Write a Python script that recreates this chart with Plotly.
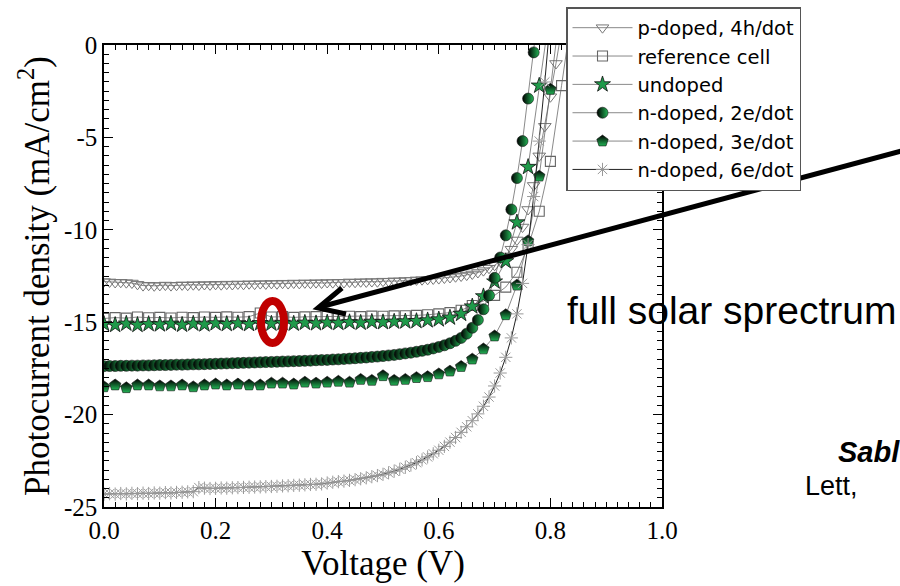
import plotly.graph_objects as go

# ---- J-V data (voltage in V, photocurrent density in mA/cm^2) ----
v_p4h = [0.00, 0.01, 0.02, 0.03, 0.04, 0.05, 0.06, 0.07, 0.08, 0.09,
         0.10, 0.11, 0.12, 0.13, 0.14, 0.15, 0.16, 0.17, 0.18, 0.19,
         0.20, 0.21, 0.22, 0.23, 0.24, 0.25, 0.26, 0.27, 0.28, 0.29,
         0.30, 0.31, 0.32, 0.33, 0.34, 0.35, 0.36, 0.37, 0.38, 0.39,
         0.40, 0.41, 0.42, 0.43, 0.44, 0.45, 0.46, 0.47, 0.48, 0.49,
         0.50, 0.51, 0.52, 0.53, 0.54, 0.55, 0.56, 0.57, 0.58, 0.59,
         0.60, 0.61, 0.62, 0.63, 0.64, 0.65, 0.66, 0.67, 0.68, 0.69,
         0.70, 0.71, 0.72, 0.73, 0.74, 0.75, 0.76, 0.77, 0.78, 0.79,
         0.80, 0.81, 0.82]
j_p4h = [-12.80, -12.82, -12.85, -12.84, -12.86, -12.88, -12.95, -13.02, -13.00, -13.03,
         -13.01, -12.99, -13.02, -13.00, -12.98, -13.00, -12.97, -12.99, -12.96, -12.98,
         -12.95, -12.97, -12.94, -12.96, -12.93, -12.95, -12.92, -12.94, -12.91, -12.93,
         -12.90, -12.92, -12.89, -12.91, -12.88, -12.90, -12.87, -12.89, -12.86, -12.88,
         -12.85, -12.86, -12.84, -12.85, -12.82, -12.84, -12.81, -12.82, -12.80, -12.81,
         -12.78, -12.79, -12.76, -12.77, -12.74, -12.74, -12.71, -12.70, -12.68, -12.66,
         -12.64, -12.61, -12.58, -12.54, -12.50, -12.45, -12.39, -12.31, -12.21, -12.08,
         -11.92, -11.70, -11.42, -11.05, -10.55, -9.85, -8.90, -7.60, -6.00, -4.40,
         -2.80, -1.00, 0.80]

v_ref = [0.00, 0.02, 0.04, 0.06, 0.08, 0.10, 0.12, 0.14, 0.16, 0.18,
         0.20, 0.22, 0.24, 0.26, 0.28, 0.30, 0.32, 0.34, 0.36, 0.38,
         0.40, 0.42, 0.44, 0.46, 0.48, 0.50, 0.52, 0.54, 0.56, 0.58,
         0.60, 0.62, 0.64, 0.66, 0.68, 0.70, 0.72, 0.74, 0.76, 0.78,
         0.80, 0.82, 0.84]
j_ref = [-14.80, -14.75, -14.78, -14.72, -14.76, -14.74, -14.77, -14.73, -14.75, -14.72,
         -14.74, -14.71, -14.73, -14.70, -14.50, -14.72, -14.70, -14.74, -14.71, -14.70,
         -14.69, -14.71, -14.68, -14.70, -14.67, -14.68, -14.66, -14.65, -14.63, -14.60,
         -14.55, -14.48, -14.35, -14.10, -13.85, -13.55, -13.10, -12.30, -10.90, -9.00,
         -6.30, -2.20, 2.00]

v_und = [0.00, 0.02, 0.04, 0.06, 0.08, 0.10, 0.12, 0.14, 0.16, 0.18,
         0.20, 0.22, 0.24, 0.26, 0.28, 0.30, 0.32, 0.34, 0.36, 0.38,
         0.40, 0.42, 0.44, 0.46, 0.48, 0.50, 0.52, 0.54, 0.56, 0.58,
         0.60, 0.62, 0.64, 0.66, 0.68, 0.70, 0.72, 0.74, 0.76, 0.78,
         0.80]
j_und = [-15.10, -15.15, -15.08, -15.15, -15.10, -15.12, -15.08, -15.14, -15.08, -15.12,
         -15.06, -15.10, -15.06, -15.10, -15.05, -15.08, -15.04, -15.08, -15.03, -15.06,
         -15.02, -15.04, -15.00, -15.03, -14.98, -15.00, -14.97, -14.96, -14.94, -14.90,
         -14.85, -14.75, -14.55, -14.15, -13.60, -12.80, -11.70, -9.60, -6.60, -2.20,
         2.00]

v_n2e = [0.00, 0.01, 0.02, 0.03, 0.04, 0.05, 0.06, 0.07, 0.08, 0.09,
         0.10, 0.11, 0.12, 0.13, 0.14, 0.15, 0.16, 0.17, 0.18, 0.19,
         0.20, 0.21, 0.22, 0.23, 0.24, 0.25, 0.26, 0.27, 0.28, 0.29,
         0.30, 0.31, 0.32, 0.33, 0.34, 0.35, 0.36, 0.37, 0.38, 0.39,
         0.40, 0.41, 0.42, 0.43, 0.44, 0.45, 0.46, 0.47, 0.48, 0.49,
         0.50, 0.51, 0.52, 0.53, 0.54, 0.55, 0.56, 0.57, 0.58, 0.59,
         0.60, 0.61, 0.62, 0.63, 0.64, 0.65, 0.66, 0.67, 0.68, 0.69,
         0.70, 0.71, 0.72, 0.73, 0.74, 0.75, 0.76, 0.77, 0.78]
j_n2e = [-17.38, -17.37, -17.37, -17.36, -17.36, -17.35, -17.35, -17.34, -17.34, -17.33,
         -17.32, -17.32, -17.31, -17.30, -17.30, -17.29, -17.28, -17.28, -17.27, -17.26,
         -17.25, -17.24, -17.23, -17.22, -17.21, -17.20, -17.19, -17.18, -17.17, -17.16,
         -17.15, -17.14, -17.13, -17.12, -17.11, -17.10, -17.09, -17.08, -17.06, -17.05,
         -17.04, -17.02, -17.01, -16.99, -16.97, -16.95, -16.93, -16.91, -16.88, -16.86,
         -16.83, -16.80, -16.77, -16.73, -16.69, -16.65, -16.60, -16.55, -16.49, -16.42,
         -16.34, -16.25, -16.14, -16.01, -15.85, -15.62, -15.30, -14.88, -14.30, -13.55,
         -12.60, -11.50, -10.30, -8.90, -7.20, -5.20, -2.90, -0.40, 2.20]

v_n3e = [0.00, 0.02, 0.04, 0.06, 0.08, 0.10, 0.12, 0.14, 0.16, 0.18,
         0.20, 0.22, 0.24, 0.26, 0.28, 0.30, 0.32, 0.34, 0.36, 0.38,
         0.40, 0.42, 0.44, 0.46, 0.48, 0.50, 0.52, 0.54, 0.56, 0.58,
         0.60, 0.62, 0.64, 0.66, 0.68, 0.70, 0.72, 0.74, 0.76, 0.78,
         0.80, 0.82]
j_n3e = [-18.50, -18.40, -18.55, -18.40, -18.40, -18.45, -18.45, -18.40, -18.50, -18.40,
         -18.35, -18.40, -18.35, -18.40, -18.40, -18.30, -18.30, -18.35, -18.25, -18.30,
         -18.25, -18.20, -18.25, -18.10, -18.15, -17.90, -18.15, -18.10, -18.00, -17.95,
         -17.80, -17.65, -17.40, -17.00, -16.45, -15.75, -14.60, -13.00, -10.60, -7.10,
         -2.40, 2.60]

v_n6e = [0.00, 0.01, 0.02, 0.03, 0.04, 0.05, 0.06, 0.07, 0.08, 0.09,
         0.10, 0.11, 0.12, 0.13, 0.14, 0.15, 0.16, 0.17, 0.18, 0.19,
         0.20, 0.21, 0.22, 0.23, 0.24, 0.25, 0.26, 0.27, 0.28, 0.29,
         0.30, 0.31, 0.32, 0.33, 0.34, 0.35, 0.36, 0.37, 0.38, 0.39,
         0.40, 0.41, 0.42, 0.43, 0.44, 0.45, 0.46, 0.47, 0.48, 0.49,
         0.50, 0.51, 0.52, 0.53, 0.54, 0.55, 0.56, 0.57, 0.58, 0.59,
         0.60, 0.61, 0.62, 0.63, 0.64, 0.65, 0.66, 0.67, 0.68, 0.69,
         0.70, 0.71, 0.72, 0.73, 0.74, 0.75, 0.76, 0.77, 0.78, 0.79,
         0.80]
j_n6e = [-24.30, -24.28, -24.30, -24.27, -24.29, -24.26, -24.28, -24.25, -24.27, -24.24,
         -24.25, -24.22, -24.24, -24.21, -24.20, -24.18, -24.17, -23.95, -23.98, -24.00,
         -23.99, -23.97, -23.98, -23.96, -23.95, -23.94, -23.93, -23.92, -23.91, -23.90,
         -23.89, -23.88, -23.86, -23.85, -23.83, -23.82, -23.80, -23.78, -23.77, -23.75,
         -23.70, -23.66, -23.63, -23.60, -23.56, -23.52, -23.47, -23.42, -23.36, -23.30,
         -23.23, -23.15, -23.06, -22.96, -22.85, -22.73, -22.60, -22.45, -22.29, -22.12,
         -21.93, -21.72, -21.49, -21.24, -20.96, -20.66, -20.33, -19.96, -19.55, -19.05,
         -18.45, -17.75, -16.90, -15.85, -14.55, -12.90, -10.80, -8.20, -5.20, -2.00,
         1.50]

series_names = ["p-doped, 4h/dot", "reference cell", "undoped",
                "n-doped, 2e/dot", "n-doped, 3e/dot", "n-doped, 6e/dot"]

x_ticks = [0.0, 0.2, 0.4, 0.6, 0.8, 1.0]
y_ticks = [0, -5, -10, -15, -20, -25]
y_ticklabels = ["0", "-5", "-10", "-15", "-20", "-25"]

# ---- page geometry (pixels) ----
W, H = 900, 586
L, R, T, B = 104, 662, 45, 507
PW, PH = R - L, B - T


def px(x):
    return (x - L) / PW


def py(y):
    return (B - y) / PH


GREEN = "#1f9a4a"
LINE = "rgba(90,90,90,0.9)"
SERIF = "Liberation Serif, Times New Roman, serif"
SANS = "Liberation Sans, Arial, sans-serif"
LEGEND_FONT = "DejaVu Sans, Liberation Sans, sans-serif"

fig = go.Figure()

fig.add_trace(go.Scatter(
    x=v_p4h, y=j_p4h, name=series_names[0], mode="lines+markers",
    line=dict(color=LINE, width=0.8),
    marker=dict(symbol="triangle-down-open", size=11, color="#777",
                line=dict(width=1, color="#777"))))

fig.add_trace(go.Scatter(
    x=v_ref, y=j_ref, name=series_names[1], mode="lines+markers",
    line=dict(color=LINE, width=0.8),
    marker=dict(symbol="square-open", size=10, color="#666",
                line=dict(width=1.1, color="#666"))))

fig.add_trace(go.Scatter(
    x=v_und, y=j_und, name=series_names[2], mode="lines+markers",
    line=dict(color=LINE, width=0.8),
    marker=dict(symbol="star", size=12, color=GREEN,
                line=dict(width=0.8, color="#111"))))

fig.add_trace(go.Scatter(
    x=v_n2e, y=j_n2e, name=series_names[3], mode="lines+markers",
    line=dict(color=LINE, width=0.8),
    marker=dict(symbol="circle", size=11, color="#000",
                gradient=dict(type="horizontal", color="#22b455"),
                line=dict(width=0.6, color="#111"))))

fig.add_trace(go.Scatter(
    x=v_n3e, y=j_n3e, name=series_names[4], mode="lines+markers",
    line=dict(color=LINE, width=0.8),
    marker=dict(symbol="pentagon", size=12, color="#000",
                gradient=dict(type="vertical", color="#22b455"),
                line=dict(width=0.6, color="#111"))))

fig.add_trace(go.Scatter(
    x=v_n6e, y=j_n6e, name=series_names[5], mode="lines+markers",
    line=dict(color="#222", width=1),
    marker=dict(symbol="asterisk-open", size=11, color="#999",
                line=dict(width=1, color="#999"))))

axis_common = dict(
    showline=True, linecolor="black", linewidth=1.5, mirror="ticks",
    ticks="inside", ticklen=9, tickwidth=1.2, tickcolor="black",
    showgrid=False, zeroline=False,
    tickfont=dict(family=SERIF, size=25, color="black"),
)

fig.update_xaxes(
    range=[0, 1.0], tickvals=x_ticks, tickformat=".1f",
    minor=dict(dtick=0.02, ticks="inside", ticklen=5, tickwidth=1, tickcolor="black"),
    title=dict(text="Voltage (V)", font=dict(family=SERIF, size=35, color="black"), standoff=2),
    **axis_common)

fig.update_yaxes(
    range=[-25, 0], tickvals=y_ticks, ticktext=y_ticklabels,
    minor=dict(dtick=0.5, ticks="inside", ticklen=5, tickwidth=1, tickcolor="black"),
    title=dict(text="Photocurrent density (mA/cm<sup>2</sup>)",
               font=dict(family=SERIF, size=35, color="black"), standoff=4),
    **axis_common)

# pointer from the caption to the curves, and the highlight ring
arrow_shapes = [
    dict(type="line", xref="paper", yref="paper",
         x0=px(905), y0=py(150), x1=px(320), y1=py(307),
         line=dict(color="black", width=5)),
    dict(type="path", xref="paper", yref="paper",
         path=f"M {px(342)} {py(288)} L {px(318)} {py(308)} L {px(346)} {py(314)}",
         line=dict(color="black", width=5)),
    dict(type="circle", xref="paper", yref="paper",
         x0=px(261), x1=px(284), y0=py(343), y1=py(301),
         line=dict(color="#c00000", width=8)),
]

annotations = [
    dict(text="full solar sprectrum", xref="paper", yref="paper",
         x=px(565), y=py(311), xanchor="left", yanchor="middle", showarrow=False,
         font=dict(family=SANS, size=39, color="black")),
    dict(text="<b><i>Sabl</i></b>", xref="paper", yref="paper",
         x=px(836), y=py(452), xanchor="left", yanchor="middle", showarrow=False,
         font=dict(family=SANS, size=29, color="black")),
    dict(text="Lett,", xref="paper", yref="paper",
         x=px(803), y=py(486), xanchor="left", yanchor="middle", showarrow=False,
         font=dict(family=SANS, size=27, color="black")),
]

fig.update_layout(
    width=W, height=H,
    margin=dict(l=L, r=W - R, t=T, b=H - B, pad=0, autoexpand=False),
    paper_bgcolor="white", plot_bgcolor="white",
    showlegend=True,
    legend=dict(
        x=px(566), y=py(7), xanchor="left", yanchor="top",
        bgcolor="white", bordercolor="#555", borderwidth=1.5,
        font=dict(family=LEGEND_FONT, size=19.5, color="black"),
        itemwidth=60, tracegroupgap=0,
    ),
    shapes=arrow_shapes,
    annotations=annotations,
)

fig.write_html("out.html")
